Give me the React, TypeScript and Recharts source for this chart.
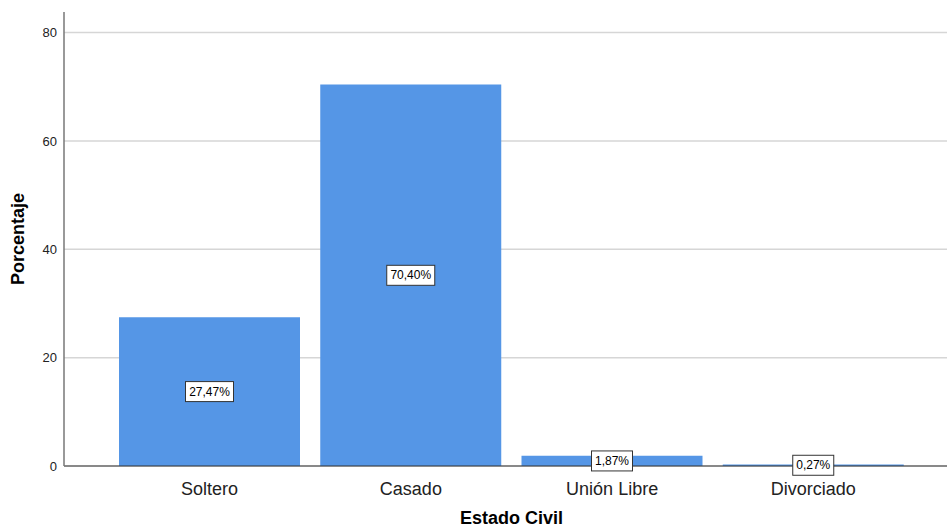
import React from 'react';
import { BarChart, Bar, XAxis, YAxis, CartesianGrid, LabelList } from 'recharts';

const categories = ['Soltero', 'Casado', 'Unión Libre', 'Divorciado'];
const percentages = [27.47, 70.4, 1.87, 0.27];
const yTicks = [0, 20, 40, 60, 80];

const data = categories.map((c, i) => ({ name: c, value: percentages[i] }));

const FONT = '"Liberation Sans", Arial, sans-serif';

const BoxLabel = (props: any) => {
  const { x, y, width, height, value } = props;
  const text = Number(value).toFixed(2).replace('.', ',') + '%';
  const cx = Number(x) + Number(width) / 2;
  const cy = Number(y) + Number(height) / 2;
  const w = text.length * 7 + 6;
  const h = 20;
  return (
    <g>
      <rect x={cx - w / 2} y={cy - h / 2} width={w} height={h} fill="#ffffff" stroke="#333333" strokeWidth={1} />
      <text x={cx} y={cy} textAnchor="middle" dominantBaseline="central" fontSize={12} fill="#000" fontFamily={FONT}>
        {text}
      </text>
    </g>
  );
};

export default function App() {
  return (
    <div style={{ position: 'absolute', left: 0, top: 0, width: 947, height: 528, background: '#fff' }}>
      <BarChart
        width={947}
        height={528}
        data={data}
        margin={{ top: 12, right: 0, bottom: 0, left: 0 }}
        barCategoryGap={10}
      >
        <CartesianGrid vertical={false} syncWithTicks horizontalValues={yTicks} stroke="#d6d6d6" strokeWidth={1.5} />
        <XAxis
          dataKey="name"
          height={62}
          padding={{ left: 45, right: 33 }}
          tickLine={false}
          tickSize={0}
          tickMargin={16}
          axisLine={{ stroke: '#333', strokeWidth: 1 }}
          tick={{ fontSize: 18, fill: '#222', fontFamily: FONT }}
          interval={0}
          label={{
            value: 'Estado Civil',
            position: 'insideBottom',
            offset: 4,
            dx: 6,
            style: { fontSize: 18, fontWeight: 'bold', fill: '#000', fontFamily: FONT },
          }}
        />
        <YAxis
          width={64}
          domain={[0, 83.8]}
          ticks={yTicks}
          tickLine={false}
          tickSize={0}
          tickMargin={7}
          axisLine={{ stroke: '#777', strokeWidth: 1.5 }}
          tick={{ fontSize: 13, fill: '#222', fontFamily: FONT }}
          allowDataOverflow
          label={{
            value: 'Porcentaje',
            angle: -90,
            position: 'insideLeft',
            offset: 18,
            style: { fontSize: 18, fontWeight: 'bold', fill: '#000', fontFamily: FONT, textAnchor: 'middle' },
          }}
        />
        <Bar dataKey="value" fill="#5596e6" isAnimationActive={false}>
          <LabelList dataKey="value" content={BoxLabel} />
        </Bar>
      </BarChart>
    </div>
  );
}
